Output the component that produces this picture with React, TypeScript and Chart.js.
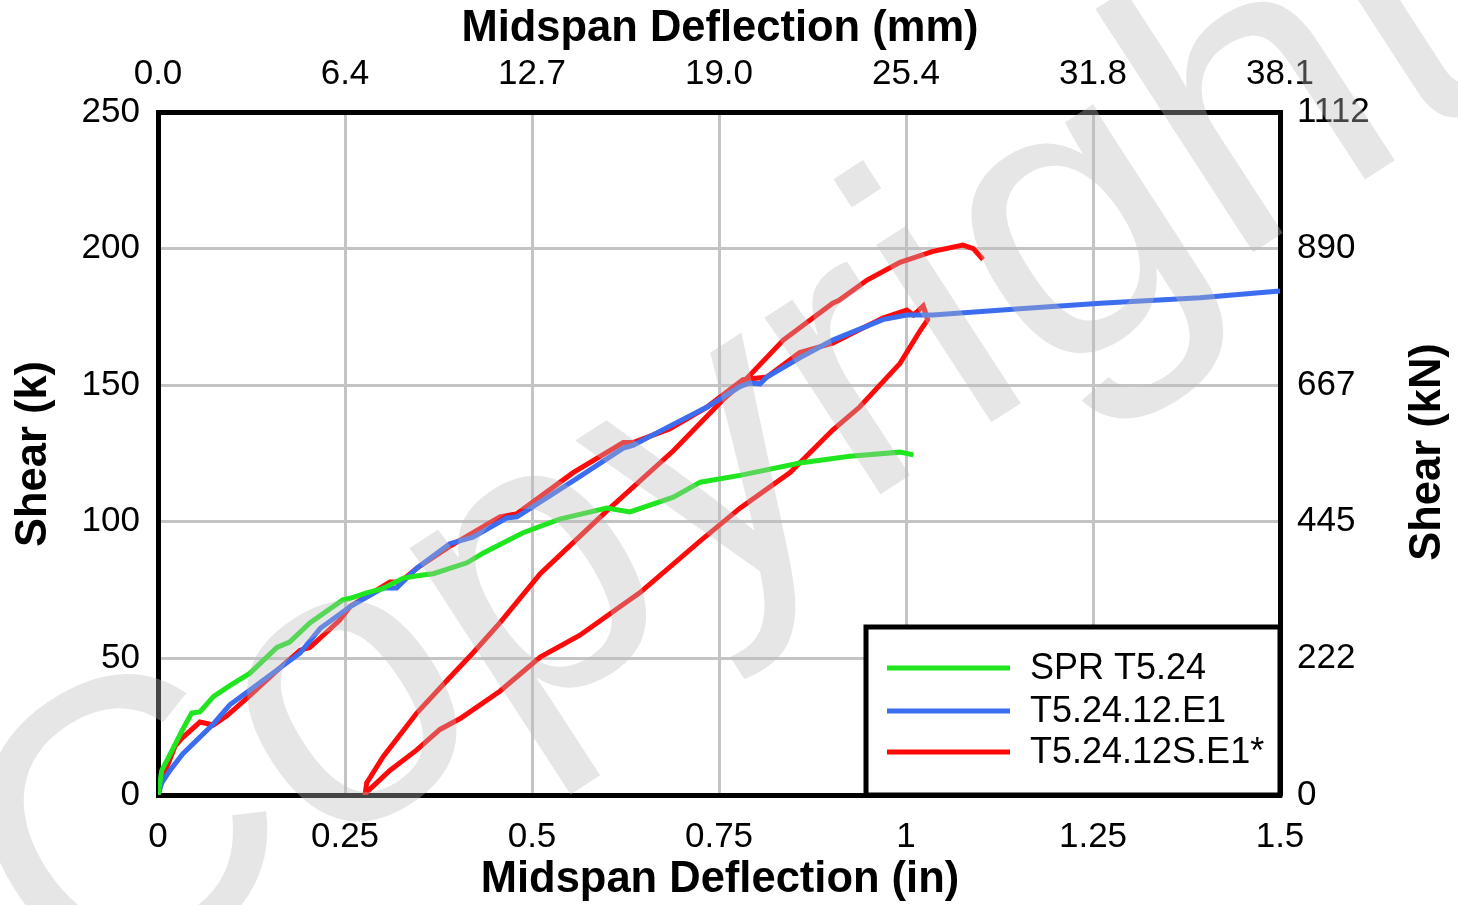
import React, { useEffect, useRef } from "react";
import { Chart, registerables } from "chart.js";

Chart.register(...registerables);

const inchTicks = [0, 0.25, 0.5, 0.75, 1, 1.25, 1.5];
const mmLabels = ["0.0", "6.4", "12.7", "19.0", "25.4", "31.8", "38.1"];
const kipTicks = [0, 50, 100, 150, 200, 250];
const kNLabels = ["0", "222", "445", "667", "890", "1112"];
const seriesNames = ["SPR T5.24", "T5.24.12.E1", "T5.24.12S.E1*"];
const seriesColors = ["#1fe61f", "#3c6cf0", "#ff0a0a"];

const sprX = [0, 0.005, 0.02, 0.033, 0.045, 0.056, 0.074, 0.096, 0.123, 0.159, 0.176, 0.203, 0.247, 0.257, 0.279, 0.3, 0.328, 0.354, 0.368, 0.413, 0.435, 0.488, 0.537, 0.6, 0.631, 0.689, 0.725, 0.778, 0.858, 0.925, 0.992, 1.01];
const sprY = [0, 9, 17, 24, 30, 30.4, 36, 40, 44.6, 54, 56, 63, 71.4, 72, 74, 75.5, 79.4, 80.5, 81, 85, 88.6, 96, 101, 105, 103.6, 109, 114.5, 117, 121.5, 124, 125.5, 124.5];

const e1X = [0, 0.005, 0.016, 0.033, 0.074, 0.096, 0.123, 0.19, 0.217, 0.257, 0.301, 0.319, 0.346, 0.39, 0.421, 0.466, 0.48, 0.555, 0.622, 0.635, 0.67, 0.734, 0.778, 0.791, 0.805, 0.814, 0.858, 0.902, 0.969, 1.001, 1.036, 1.152, 1.26, 1.393, 1.5];
const e1Y = [0, 4.4, 9, 15, 26, 33, 38.4, 52, 61, 69, 75.8, 75.8, 83, 92, 94.4, 101.4, 101.8, 115, 127, 128, 133, 142, 149.5, 150.8, 150.5, 153, 160, 166.5, 174, 175.7, 175.7, 178, 180, 182, 184.5];

const spX = [0, 0.005, 0.023, 0.033, 0.056, 0.074, 0.092, 0.119, 0.163, 0.19, 0.203, 0.243, 0.257, 0.31, 0.324, 0.346, 0.39, 0.457, 0.48, 0.555, 0.622, 0.635, 0.684, 0.734, 0.782, 0.814, 0.858, 0.902, 0.969, 1.001, 1.01, 1.023, 1.029,
  1.019, 0.992, 0.938, 0.902, 0.845, 0.778, 0.725, 0.644, 0.618, 0.564, 0.511, 0.457, 0.404, 0.377, 0.346, 0.31, 0.277,
  0.279, 0.301, 0.346, 0.39, 0.421, 0.457, 0.511, 0.6, 0.689, 0.755, 0.782, 0.836, 0.902, 0.91, 0.948, 0.992, 1.036, 1.076, 1.09, 1.103];
const spY = [0, 5.5, 18, 21, 26.7, 25.6, 29, 35.5, 46.5, 53, 54, 64, 69, 78, 78, 83, 91, 101.8, 103, 118, 129, 129, 134, 142, 152, 153, 162, 165.4, 174.6, 177.5, 175.7, 179, 174,
  170, 158, 142, 133.6, 118, 105, 93, 74, 69, 58.5, 50.5, 38, 28, 24, 16.5, 9, 0.5,
  4.4, 14, 30, 43, 52, 63, 81, 104, 126, 144.6, 151, 166.5, 180, 181, 188.5, 195, 199, 201.3, 200, 196];

const FONT = "'Liberation Sans', Arial, sans-serif";

function pts(xs: number[], ys: number[]) {
  return xs.map((x, i) => ({ x, y: ys[i] }));
}

const overlayPlugin = {
  id: "overlay",
  afterDraw(chart: any) {
    const ctx = chart.ctx as CanvasRenderingContext2D;
    const area = chart.chartArea;
    ctx.save();
    // legend box
    const bx = 866, by = 627, bw = area.right - 866, bh = area.bottom - 627;
    ctx.fillStyle = "#ffffff";
    ctx.fillRect(bx, by, bw, bh);
    ctx.lineWidth = 5;
    ctx.strokeStyle = "#000";
    ctx.strokeRect(bx, by, bw, bh);
    const rows = [668, 711, 752];
    ctx.font = `36px ${FONT}`;
    ctx.textBaseline = "middle";
    ctx.textAlign = "left";
    seriesNames.forEach((name, i) => {
      ctx.strokeStyle = seriesColors[i];
      ctx.lineWidth = 5;
      ctx.beginPath();
      ctx.moveTo(887, rows[i]);
      ctx.lineTo(1010, rows[i]);
      ctx.stroke();
      ctx.fillStyle = "#000";
      ctx.fillText(name, 1030, rows[i] + 1);
    });
    // titles
    ctx.fillStyle = "#000";
    ctx.font = `bold 43.5px ${FONT}`;
    ctx.textAlign = "center";
    ctx.textBaseline = "middle";
    ctx.fillText("Midspan Deflection (mm)", 720, 29);
    ctx.fillText("Midspan Deflection (in)", 720, 880);
    ctx.save();
    ctx.translate(34, 454);
    ctx.rotate(-Math.PI / 2);
    ctx.fillText("Shear (k)", 0, 0);
    ctx.restore();
    ctx.save();
    ctx.translate(1428, 452);
    ctx.rotate(-Math.PI / 2);
    ctx.fillText("Shear (kN)", 0, 0);
    ctx.restore();
    // watermark
    ctx.save();
    ctx.translate(74, 1018);
    ctx.rotate((-33 * Math.PI) / 180);
    ctx.font = `400px ${FONT}`;
    ctx.fillStyle = "rgba(186,186,186,0.37)";
    ctx.textAlign = "left";
    ctx.textBaseline = "alphabetic";
    ctx.fillText("Copyright", 0, 0);
    ctx.restore();
    ctx.restore();
  },
};

export default function App() {
  const ref = useRef<HTMLCanvasElement | null>(null);
  useEffect(() => {
    document.body.style.margin = "0";
    const canvas = ref.current!;
    const tickFont = { family: FONT, size: 35 };
    const common = { borderWidth: 5, pointRadius: 0, tension: 0, xAxisID: "x", yAxisID: "y" };
    const chart = new Chart(canvas, {
      type: "line",
      data: {
        datasets: [
          { label: seriesNames[0], data: pts(sprX, sprY), borderColor: seriesColors[0], ...common },
          { label: seriesNames[1], data: pts(e1X, e1Y), borderColor: seriesColors[1], ...common },
          { label: seriesNames[2], data: pts(spX, spY), borderColor: seriesColors[2], ...common },
        ],
      },
      options: {
        responsive: false,
        animation: false,
        devicePixelRatio: 1,
        layout: { padding: 0 },
        plugins: { legend: { display: false }, tooltip: { enabled: false } },
        scales: {
          x: {
            type: "linear",
            position: "bottom",
            min: 0,
            max: 1.5,
            afterBuildTicks: (s: any) => { s.ticks = inchTicks.map((v) => ({ value: v })); },
            ticks: { font: tickFont, color: "#000", padding: 21, callback: (v: any) => String(v), maxRotation: 0 },
            grid: { color: "#c4c4c4", lineWidth: 3, drawTicks: false },
            border: { color: "#000", width: 5 },
            afterFit: (s: any) => { s.height = 110; },
          },
          x2: {
            type: "linear",
            position: "top",
            min: 0,
            max: 1.5,
            afterBuildTicks: (s: any) => { s.ticks = inchTicks.map((v) => ({ value: v })); },
            ticks: { font: tickFont, color: "#000", padding: 17, maxRotation: 0, callback: (_v: any, i: number) => mmLabels[i] },
            grid: { drawOnChartArea: false, drawTicks: false },
            border: { color: "#000", width: 5 },
            afterFit: (s: any) => { s.height = 112; },
          },
          y: {
            type: "linear",
            position: "left",
            min: 0,
            max: 250,
            afterBuildTicks: (s: any) => { s.ticks = kipTicks.map((v) => ({ value: v })); },
            ticks: { font: tickFont, color: "#000", padding: 18 },
            grid: { color: "#c4c4c4", lineWidth: 3, drawTicks: false },
            border: { color: "#000", width: 5 },
            afterFit: (s: any) => { s.width = 158; },
          },
          y2: {
            type: "linear",
            position: "right",
            min: 0,
            max: 250,
            afterBuildTicks: (s: any) => { s.ticks = kipTicks.map((v) => ({ value: v })); },
            ticks: { font: tickFont, color: "#000", padding: 17, callback: (_v: any, i: number) => kNLabels[i] },
            grid: { drawOnChartArea: false, drawTicks: false },
            border: { color: "#000", width: 5 },
            afterFit: (s: any) => { s.width = 178; },
          },
        },
      },
      plugins: [overlayPlugin],
    } as any);
    return () => chart.destroy();
  }, []);
  return (
    <div style={{ position: "absolute", left: 0, top: 0, width: 1458, height: 905, background: "#fff" }}>
      <canvas ref={ref} width={1458} height={905} style={{ display: "block" }} />
    </div>
  );
}
